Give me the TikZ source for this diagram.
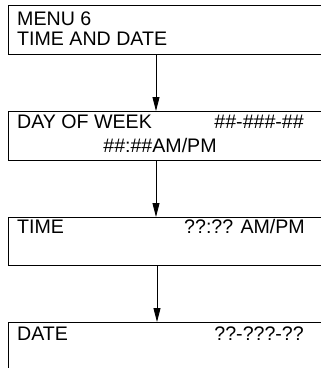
\documentclass[tikz,border=0pt]{standalone}
\usepackage{fontspec}
\setmainfont{Liberation Sans}
\usetikzlibrary{arrows.meta,positioning}

\begin{document}
\begin{tikzpicture}[x=1pt,y=-1pt,font=\fontsize{19.6}{21}\selectfont,
		panel/.style={draw,line width=0.9pt,rectangle,anchor=north west,inner sep=0pt,minimum width=332pt},
		label/.style={inner sep=0pt,anchor=base west},
		value/.style={inner sep=0pt,anchor=base east},
		flow/.style={-{Triangle[length=14pt,width=7pt]},line width=0.9pt}]
			\useasboundingbox (0,0) rectangle (321,368);
			\node[panel,minimum height=49pt] (menu) at (8,5) {};
			\node[panel,minimum height=49pt] (dow) at (8,111) {};
			\node[panel,minimum height=48pt] (time) at (8,217) {};
			\node[panel,minimum height=60pt] (date) at (8,322) {};
			\node[label] (menunum) at (17,25) {MENU 6};
			\node[label] (menuname) at (17,45) {TIME AND DATE};
			\node[label] (dowlabel) at (17,128) {DAY OF WEEK};
			\node[value] (dowdate) at (304,128) {\#\#-\#\#\#-\#\#};
			\node[inner sep=0pt,anchor=base] (dowtime) at (160,152) {\#\#:\#\#AM/PM};
			\node[label] (timelabel) at (17,233) {TIME};
			\node[value] (timevalue) at (305,233) {??:?? AM/PM};
			\node[label] (datelabel) at (17,340) {DATE};
			\node[value] (datevalue) at (304,340) {??-???-??};
			\draw[flow] ([xshift=148pt]menu.south west) -- ([xshift=148pt]dow.north west);
			\draw[flow] ([xshift=148pt]dow.south west) -- ([xshift=148pt]time.north west);
			\draw[flow] ([xshift=149pt]time.south west) -- ([xshift=149pt]date.north west);
		\end{tikzpicture}
\end{document}
